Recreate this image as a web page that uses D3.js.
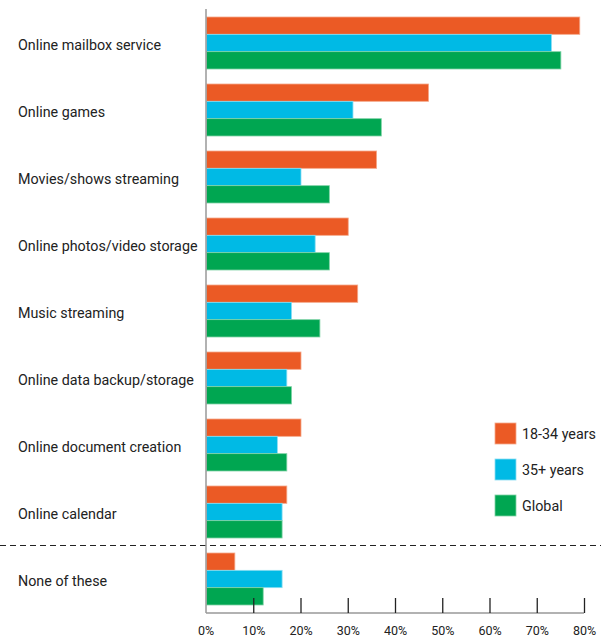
<!DOCTYPE html>
<html>
<head>
<meta charset="utf-8">
<script src="https://cdn.jsdelivr.net/npm/d3@7"></script>
<style>
  html, body { margin: 0; padding: 0; background: #fff; }
  svg { display: block; }
  text { font-family: Roboto, "DejaVu Sans", sans-serif; fill: #222; }
</style>
</head>
<body>
<svg id="chart" width="601" height="638"></svg>
<script>
const categories = [
  "Online mailbox service",
  "Online games",
  "Movies/shows streaming",
  "Online photos/video storage",
  "Music streaming",
  "Online data backup/storage",
  "Online document creation",
  "Online calendar",
  "None of these"
];
const seriesNames = ["18-34 years", "35+ years", "Global"];
const youngValues  = [79, 47, 36, 30, 32, 20, 20, 17, 6];
const olderValues  = [73, 31, 20, 23, 18, 17, 15, 16, 16];
const globalValues = [75, 37, 26, 26, 24, 18, 17, 16, 12];
const tickValues = [0, 10, 20, 30, 40, 50, 60, 70, 80];
const tickLabels = ["0%", "10%", "20%", "30%", "40%", "50%", "60%", "70%", "80%"];

const colors = ["#EB5A25", "#00BAE5", "#00A651"];
const strokes = ["#F5A98A", "#8ADDF2", "#7FD3A6"];

const svg = d3.select("#chart");
const x0 = 206, x1 = 584;
const axisY = 613;

const x = d3.scaleLinear().domain([0, 80]).range([x0, x1]);
const y = d3.scaleBand().domain(categories).range([17, 605]).paddingInner(15/67).paddingOuter(0);
const ySub = d3.scaleBand().domain(seriesNames).range([0, y.bandwidth()]);

const allValues = [youngValues, olderValues, globalValues];
const rows = categories.map((c, i) => ({
  cat: c,
  vals: seriesNames.map((s, j) => ({ s, j, v: allValues[j][i] }))
}));

const g = svg.append("g");
const groups = g.selectAll("g.grp").data(rows).join("g")
  .attr("class", "grp")
  .attr("transform", d => `translate(0,${y(d.cat)})`);

groups.selectAll("rect").data(d => d.vals).join("rect")
  .attr("x", x(0) + 0.5)
  .attr("y", d => ySub(d.s))
  .attr("width", d => x(d.v) - x(0))
  .attr("height", ySub.bandwidth())
  .attr("fill", d => colors[d.j])
  .attr("stroke", d => strokes[d.j])
  .attr("stroke-width", 0.8);

// category labels
svg.append("g").selectAll("text").data(categories).join("text")
  .attr("x", 18)
  .attr("y", d => y(d) + y.bandwidth() / 2 + 3)
  .attr("dominant-baseline", "middle")
  .attr("font-size", "14.3px")
  .text(d => d);

// dashed separator
const sepY = (y(categories[7]) + y.bandwidth() + y(categories[8])) / 2;
svg.append("line")
  .attr("x1", 0).attr("x2", 601)
  .attr("y1", sepY).attr("y2", sepY)
  .attr("stroke", "#222").attr("stroke-width", 1.2)
  .attr("stroke-dasharray", "6,4");

// vertical axis
svg.append("line")
  .attr("x1", x(0)).attr("x2", x(0))
  .attr("y1", 9).attr("y2", axisY)
  .attr("stroke", "#999").attr("stroke-width", 1.5);

// x axis
const xAxis = d3.axisBottom(x)
  .tickValues(tickValues.slice(1))
  .tickFormat((d) => tickLabels[tickValues.indexOf(d)])
  .tickSizeInner(-15)
  .tickSizeOuter(0)
  .tickPadding(13);
const ax = svg.append("g").attr("transform", `translate(0,${axisY})`).call(xAxis);
ax.select(".domain").attr("stroke", "#999").attr("stroke-width", 1.5)
  .attr("d", `M${x(0)},0H${x(80)}`);
ax.selectAll(".tick line").attr("stroke", "#222").attr("stroke-width", 1.3);
ax.selectAll(".tick text").attr("font-size", "12.5px").attr("fill", "#222")
  .attr("font-family", "Roboto, 'DejaVu Sans', sans-serif");
// 0% label
ax.append("text")
  .attr("x", x(0)).attr("y", 13).attr("dy", "0.71em")
  .attr("text-anchor", "middle").attr("font-size", "12.5px").attr("fill", "#222")
  .text(tickLabels[0]);

// legend
const legend = svg.append("g").attr("transform", "translate(495,423)");
const li = legend.selectAll("g").data(seriesNames).join("g")
  .attr("transform", (d, i) => `translate(0,${i * 36})`);
li.append("rect")
  .attr("width", 21).attr("height", 21)
  .attr("fill", (d, i) => colors[i])
  .attr("stroke", (d, i) => strokes[i]).attr("stroke-width", 0.8);
li.append("text")
  .attr("x", 27).attr("y", 12)
  .attr("dominant-baseline", "middle")
  .attr("font-size", "14.3px")
  .text(d => d);
</script>
</body>
</html>
